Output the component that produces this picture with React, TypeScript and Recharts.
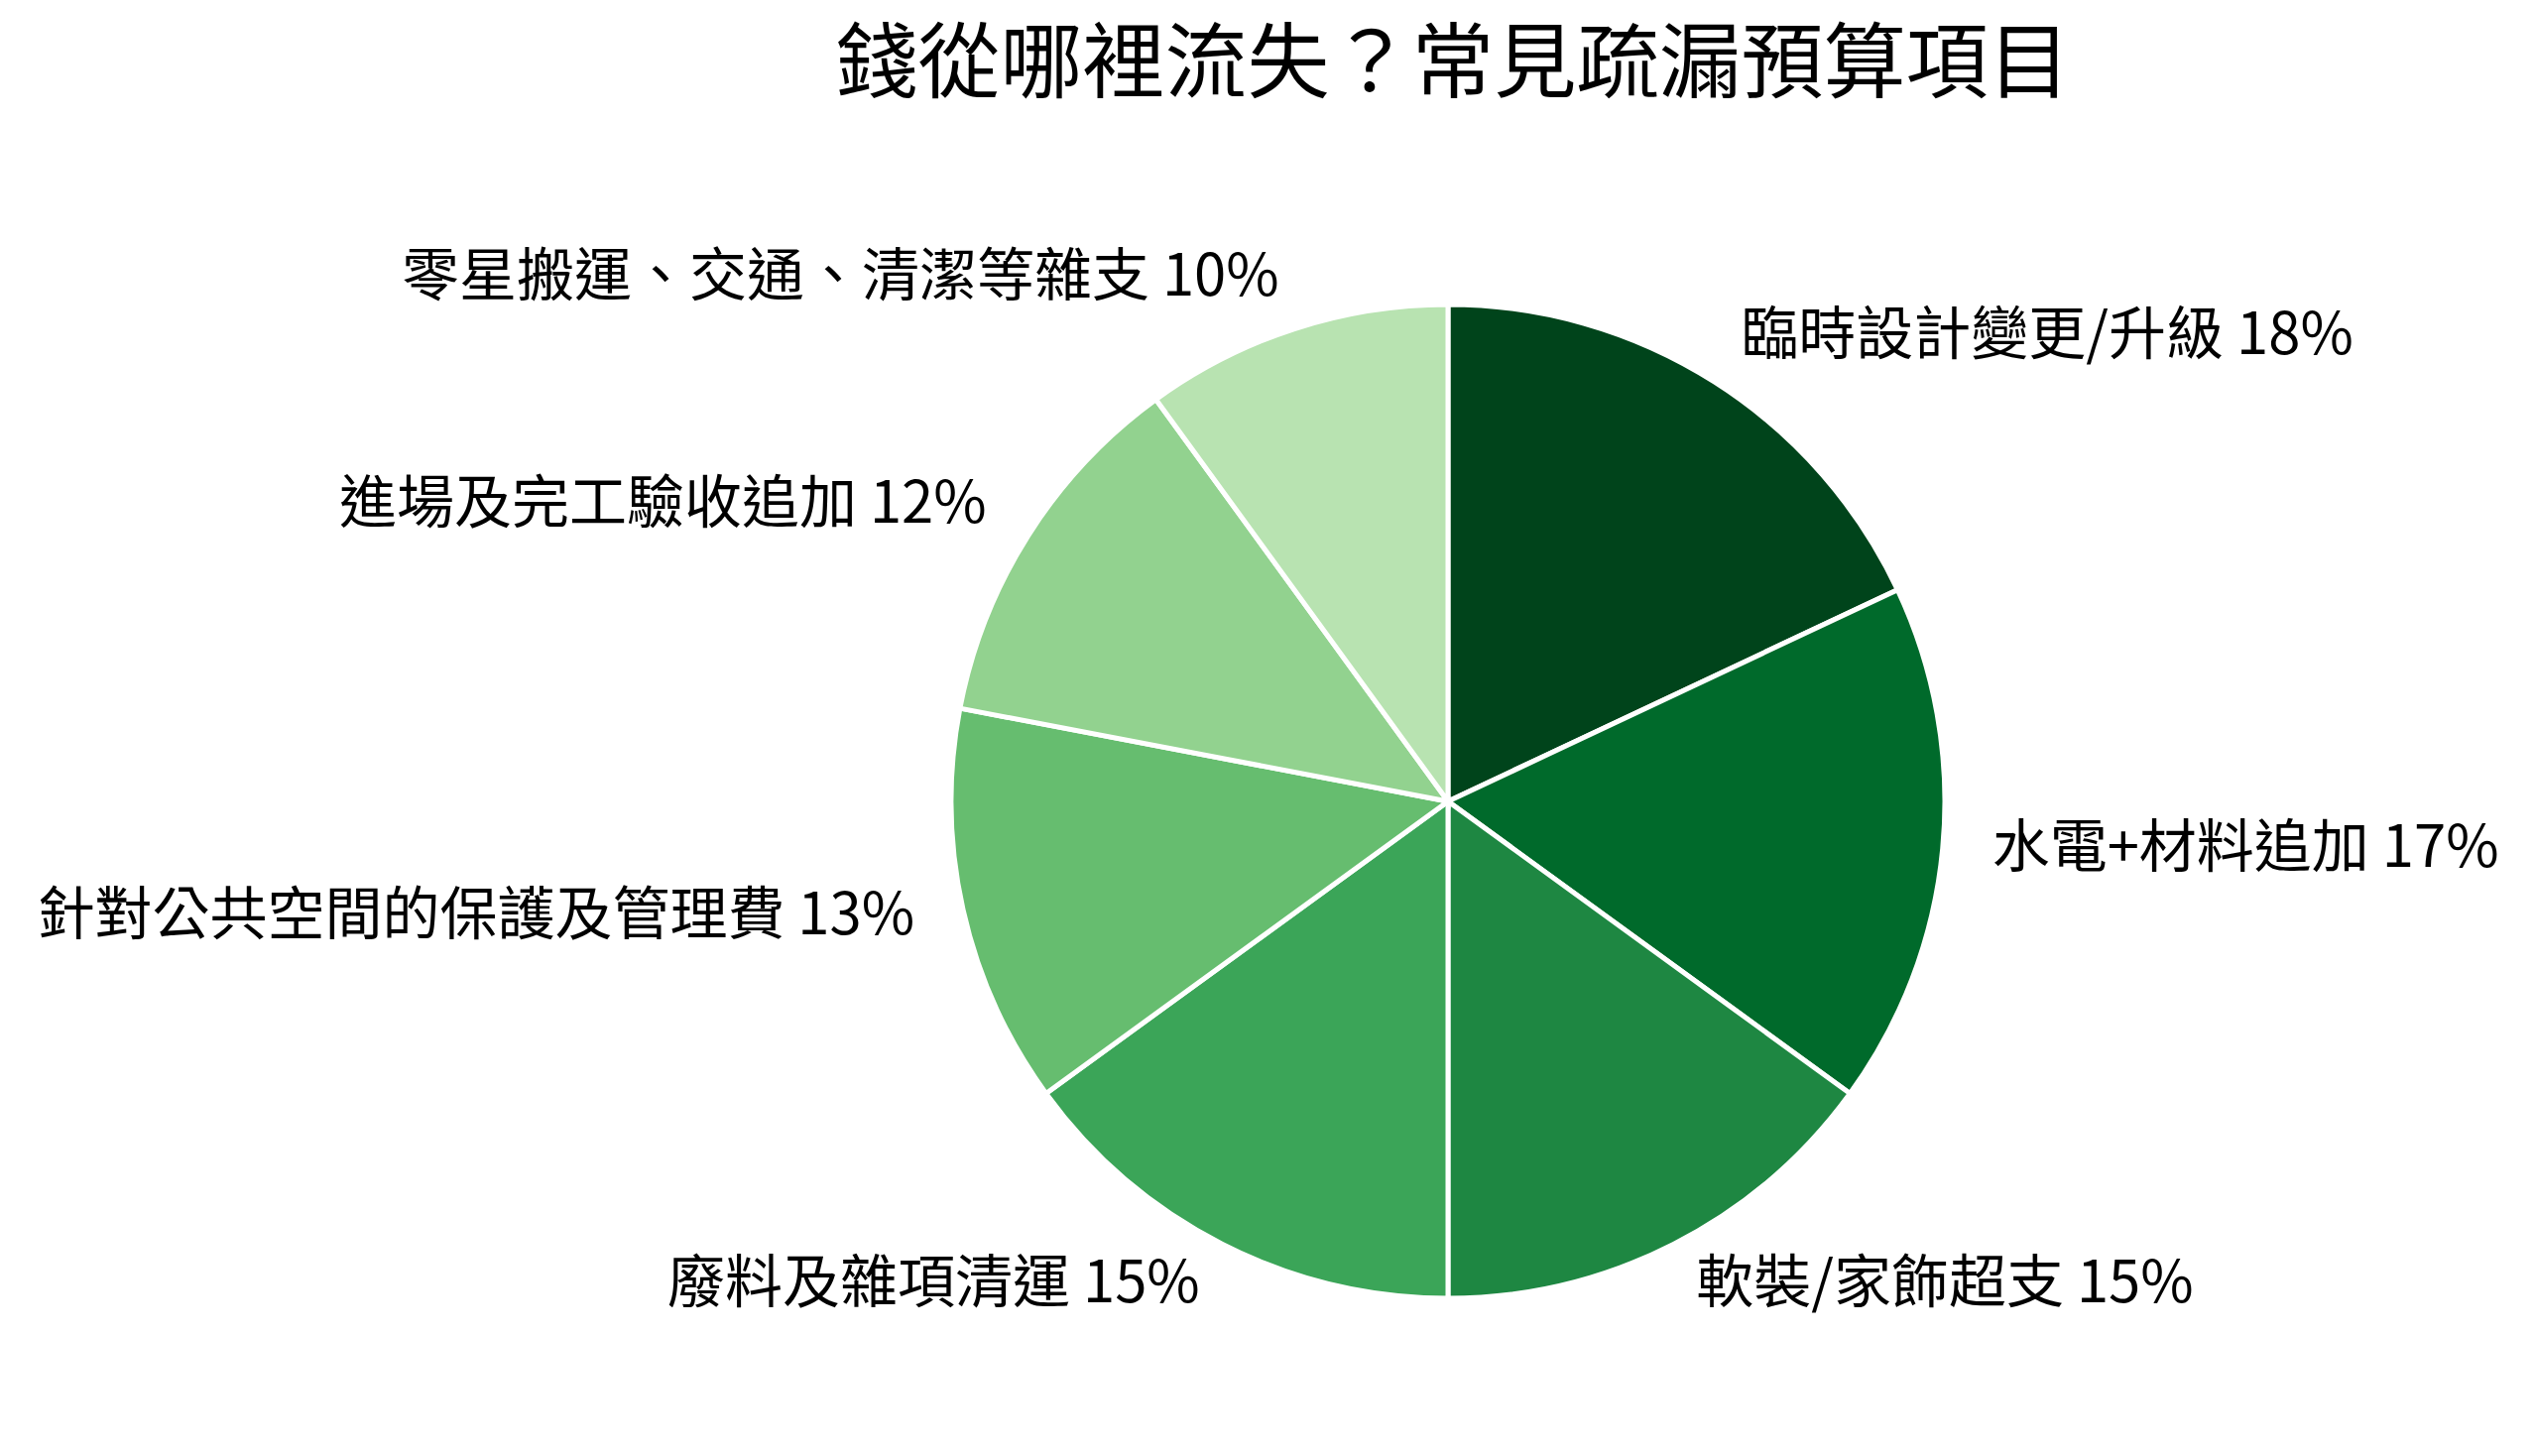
import { PieChart, Pie, Cell } from "recharts";

const categories = [
    "臨時設計變更/升級",
    "水電+材料追加",
    "軟裝/家飾超支",
    "廢料及雜項清運",
    "針對公共空間的保護及管理費",
    "進場及完工驗收追加",
    "零星搬運、交通、清潔等雜支",
];

const shares = [18, 17, 15, 15, 13, 12, 10];

const colors = [
    "#00441b",
    "#006a2b",
    "#1e8742",
    "#3ba558",
    "#66bd6f",
    "#92d28f",
    "#b8e3b1",
];

const title = "錢從哪裡流失？常見疏漏預算項目";

const data = categories.map((name, i) => ({ name, value: shares[i] }));

const FONT = '"Noto Sans CJK TC", "Noto Sans", sans-serif';
const RADIAN = Math.PI / 180;

function renderLabel(props: any) {
    const { cx, cy, midAngle, outerRadius, name, value } = props;
    const r = outerRadius * 1.1;
    const x = cx + r * Math.cos(-midAngle * RADIAN);
    const y = cy + r * Math.sin(-midAngle * RADIAN);
    return (
        <text
            x={x}
            y={y + 14}
            fill="#000"
            fontSize={58}
            fontFamily={FONT}
            textAnchor={x > cx ? "start" : "end"}
        >
            {`${name} ${value}%`}
        </text>
    );
}

export default function App() {
    return (
        <div
            style={{
                position: "absolute",
                left: 0,
                top: 0,
                width: 2555,
                height: 1468,
                background: "#fff",
            }}
        >
            <div
                style={{
                    position: "absolute",
                    left: 0,
                    top: 15,
                    width: 2930,
                    height: 83,
                    lineHeight: "83px",
                    fontSize: 83,
                    fontFamily: FONT,
                    textAlign: "center",
                    whiteSpace: "nowrap",
                    color: "#000",
                    overflow: "visible",
                }}
            >
                {title}
            </div>
            <PieChart
                width={2555}
                height={1468}
                margin={{ top: 0, right: 0, bottom: 0, left: 0 }}
            >
                <Pie
                    data={data}
                    dataKey="value"
                    nameKey="name"
                    cx={1460}
                    cy={808}
                    outerRadius={501}
                    startAngle={90}
                    endAngle={-270}
                    stroke="#ffffff"
                    strokeWidth={5}
                    label={renderLabel}
                    labelLine={false}
                    isAnimationActive={false}
                >
                    {data.map((d, i) => (
                        <Cell key={d.name} fill={colors[i]} />
                    ))}
                </Pie>
            </PieChart>
        </div>
    );
}
